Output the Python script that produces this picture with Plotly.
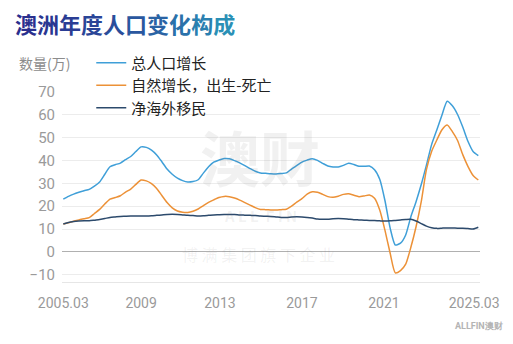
import plotly.graph_objects as go

# Quarterly periods, 2005.03 .. 2025.03
quarters = [f"{y}.{m:02d}" for y in range(2005, 2026) for m in (3, 6, 9, 12)]
quarters = quarters[:quarters.index("2025.03") + 1]
t = [int(q[:4]) + int(q[5:]) / 12 for q in quarters]

# Annual change, in 10k persons
total_growth = [
    23.1, 24.3, 25.3, 26.1, 26.8, 27.4, 28.8, 30.6, 34.0, 37.3,
    38.2, 38.9, 40.4, 41.8, 44.0, 46.0, 45.8, 44.6, 42.5, 39.5,
    36.3, 34.0, 32.3, 31.2, 30.6, 30.8, 31.6, 34.5, 37.3, 39.3,
    40.2, 40.9, 40.8, 40.0, 39.0, 37.8, 36.5, 35.3, 34.6, 34.4,
    34.2, 34.1, 34.3, 34.6, 36.3, 37.8, 39.3, 40.2, 40.8, 40.1,
    38.8, 37.6, 37.2, 37.2, 37.9, 38.8, 38.3, 37.5, 37.5, 37.6,
    36.0, 31.8, 22.5, 10.5, 3.0, 3.8, 7.4, 15.4, 22.0, 29.5,
    38.0, 47.0, 53.4, 60.0, 66.0, 64.0, 60.2, 54.7, 48.5, 44.0,
    42.2,
]
natural_growth = [
    12.2, 12.8, 13.4, 14.0, 14.5, 15.0, 16.8, 18.6, 21.0, 23.1,
    23.8, 24.6, 26.2, 27.5, 29.6, 31.5, 31.1, 29.9, 27.8, 24.7,
    21.6, 19.3, 17.9, 17.4, 17.3, 17.8, 18.8, 20.3, 21.7, 22.8,
    23.8, 24.3, 24.2, 23.6, 22.7, 21.6, 20.5, 19.4, 18.6, 18.5,
    18.4, 18.3, 18.5, 18.7, 20.0, 21.8, 23.3, 25.3, 26.3, 26.1,
    25.2, 24.2, 23.9, 24.4, 25.2, 25.5, 24.8, 24.2, 24.5, 24.9,
    23.5, 18.3, 9.5, -0.5, -9.2, -8.2, -5.4, 2.0, 11.0, 22.0,
    36.0, 44.0, 49.0, 53.5, 55.6, 52.7, 48.8, 42.6, 37.5, 33.5,
    31.5,
]
net_migration = [
    12.2, 12.9, 13.3, 13.5, 13.6, 13.6, 13.9, 14.2, 14.6, 15.1,
    15.3, 15.5, 15.6, 15.7, 15.7, 15.7, 15.7, 15.8, 16.0, 16.2,
    16.4, 16.5, 16.4, 16.2, 16.0, 15.9, 15.7, 15.8, 16.0, 16.2,
    16.3, 16.4, 16.4, 16.4, 16.2, 16.1, 16.0, 15.9, 15.7, 15.6,
    15.5, 15.3, 15.1, 15.1, 15.3, 15.4, 15.3, 15.1, 14.8, 14.4,
    14.3, 14.3, 14.5, 14.6, 14.5, 14.3, 14.1, 14.0, 13.9, 13.8,
    13.7, 13.6, 13.5, 13.6, 13.8, 14.0, 14.2, 14.3, 13.5, 12.4,
    11.3, 10.6, 10.3, 10.4, 10.5, 10.5, 10.4, 10.4, 10.2, 10.0,
    10.8,
]

series_names = ["总人口增长", "自然增长，出生-死亡", "净海外移民"]
series_colors = ["#3f9fd8", "#ec9137", "#2c4a6c"]

x_tick_vals = [2005.25, 2009.0, 2012.8, 2016.75, 2020.7, 2025.05]
x_tick_text = ["2005.03", "2009", "2013", "2017", "2021", "2025.03"]
y_tick_vals = list(range(-10, 80, 10))

title_text = "澳洲年度人口变化构成"
title_colors = ["#2a2f8e", "#2a3691", "#2a3d94", "#2a4597", "#2a4d9b",
                "#2a579f", "#2a63a4", "#2a71aa", "#2a80b0", "#2a90b6"]

CJK = "Noto Sans CJK SC"
NUM = "Roboto"

fig = go.Figure()
for name, ys, col in zip(series_names, [total_growth, natural_growth, net_migration], series_colors):
    fig.add_trace(go.Scatter(
        x=t, y=ys, name=name, mode="lines",
        line=dict(color=col, width=1.5, shape="spline", smoothing=0.6),
        hoverinfo="x+y+name",
    ))

# faint brand watermark behind the data
watermarks = [
    dict(text="<b>澳财</b>", x=0.474, y=0.668, size=60, color="rgba(120,120,120,0.10)"),
    dict(text="<b>A L L  F I N</b>", x=0.474, y=0.352, size=15, color="rgba(120,120,120,0.10)"),
    dict(text="博 满 集 团 旗 下 企 业", x=0.47, y=0.15, size=16, color="rgba(120,120,120,0.10)"),
]
annotations = []
for w in watermarks:
    annotations.append(dict(
        text=w["text"], x=w["x"], y=w["y"], xref="paper", yref="paper",
        showarrow=False, xanchor="center", yanchor="middle",
        font=dict(family=CJK, size=w["size"], color=w["color"]),
    ))

annotations.append(dict(
    text="数量(万)", x=-0.1077, y=1.153, xref="paper", yref="paper",
    showarrow=False, xanchor="left", yanchor="middle",
    font=dict(family=CJK, size=14, color="#8c8c8c"),
))
annotations.append(dict(
    text="<b>ALLFIN澳财</b>", x=1.06, y=-0.2335, xref="paper", yref="paper",
    showarrow=False, xanchor="right", yanchor="middle",
    font=dict(family=NUM, size=9, color="#b4b4b4"),
))

title_html = "".join(
    f'<span style="color:{c}">{ch}</span>' for ch, c in zip(title_text, title_colors)
)

fig.update_layout(
    width=513, height=344,
    margin=dict(l=62, r=33, t=92, b=62),
    paper_bgcolor="white", plot_bgcolor="white",
    font=dict(family=CJK, color="#222"),
    title=dict(
        text=f"<b>{title_html}</b>",
        x=15 / 513, xref="container", xanchor="left",
        y=1 - 25 / 344, yref="container", yanchor="middle",
        font=dict(family=CJK, size=22),
    ),
    showlegend=True,
    legend=dict(
        x=0.07, y=1.24, xref="paper", yref="paper",
        xanchor="left", yanchor="top",
        bgcolor="rgba(0,0,0,0)", borderwidth=0,
        font=dict(family=CJK, size=15, color="#222"),
        itemwidth=30, tracegroupgap=0,
    ),
    annotations=annotations,
    xaxis=dict(
        range=[2005.187, 2025.332],
        tickvals=x_tick_vals, ticktext=x_tick_text,
        showgrid=False, zeroline=False,
        showline=True, linecolor="#e6e6e6", linewidth=1,
        ticks="", ticklabelstandoff=8,
        tickfont=dict(family=NUM, size=14, color="#9a9a9a"),
    ),
    yaxis=dict(
        range=[-13.2, 70.05],
        tickvals=y_tick_vals,
        showgrid=True, gridcolor="#ececec", gridwidth=1,
        zeroline=True, zerolinecolor="#b0b0b0", zerolinewidth=1.3,
        showline=False, ticks="", ticklabelstandoff=6,
        tickfont=dict(family=NUM, size=15, color="#9a9a9a"),
    ),
)

fig.write_html("out.html")
